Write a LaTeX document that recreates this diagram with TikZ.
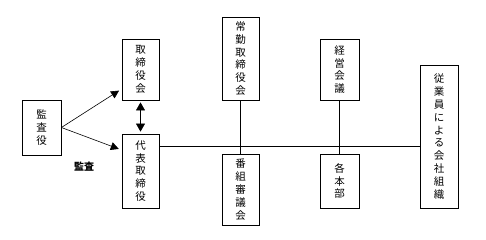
\documentclass[tikz,border=0pt]{standalone}
\usepackage{fontspec}
\setmainfont{Noto Sans CJK JP}
\usepackage{tikz}
\usetikzlibrary{arrows.meta, positioning, calc}

\begin{document}
\begin{tikzpicture}[x=1pt, y=-1pt]

% ---- Styles -----------------------------------------------------------------
\tikzset{
  org/.style={draw, thick, fill=white, align=center, inner sep=0pt,
              font=\fontsize{10.5}{12.8}\selectfont},
  lnk/.style={semithick},
  arr/.style={semithick, -{Triangle[length=8pt, width=8pt]}, shorten >=3pt},
  dbl/.style={semithick, {Triangle[length=8pt, width=9pt]}-{Triangle[length=8pt, width=9pt]},
              shorten >=2pt, shorten <=2pt},
}

\useasboundingbox (0,0) rectangle (486,240);

% ---- Boxes ------------------------------------------------------------------
\node[org, minimum width=39pt, minimum height=55pt]  (kansa)   at (41.5,127.5) {監\\査\\役};
\node[org, minimum width=37pt, minimum height=61pt]  (torikai) at (140.5,69.5) {取\\締\\役\\会};
\node[org, minimum width=37pt, minimum height=74pt]  (daihyo)  at (140.5,171)  {代\\表\\取\\締\\役};
\node[org, minimum width=37pt, minimum height=83pt]  (jokin)   at (240.5,58.5) {常\\勤\\取\\締\\役\\会};
\node[org, minimum width=37pt, minimum height=71pt]  (bangumi) at (240.5,189.5) {番\\組\\審\\議\\会};
\node[org, minimum width=39pt, minimum height=61pt]  (keiei)   at (339.5,69.5) {経\\営\\会\\議};
\node[org, minimum width=39pt, minimum height=54pt]  (honbu)   at (339.5,181)  {各\\本\\部};
\node[org, minimum width=38pt, minimum height=143pt] (soshiki) at (439,136.5)  {従\\業\\員\\に\\よ\\る\\会\\社\\組\\織};

% ---- Label ------------------------------------------------------------------
\node[font=\fontsize{10}{11}\selectfont\bfseries] (kansalbl) at (84,167) {監査};

% ---- Connectors -------------------------------------------------------------
\coordinate (bus) at (0,146);
\coordinate (uphit) at (0,89);
\coordinate (lohit) at (0,150);

\draw[arr] (kansa.east) -- (torikai.west |- uphit);
\draw[arr] (kansa.east) -- (daihyo.west |- lohit);
\draw[dbl] (torikai.south) -- (daihyo.north);

\draw[lnk] (daihyo.east |- bus) -- (soshiki.west |- bus);
\draw[lnk] (jokin.south) -- (bangumi.north);
\draw[lnk] (keiei.south) -- (honbu.north);

\end{tikzpicture}
\end{document}
